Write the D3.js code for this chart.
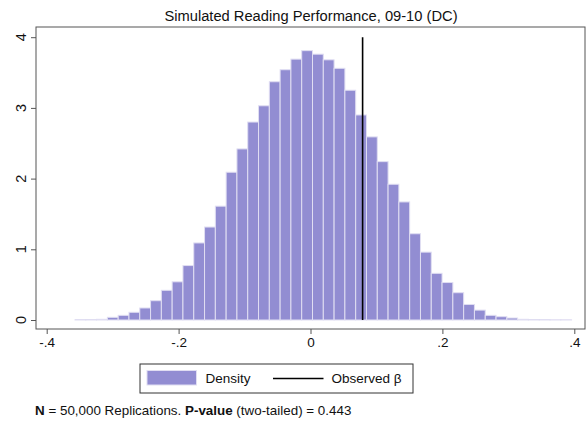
<!DOCTYPE html>
<html>
<head>
<meta charset="utf-8">
<script src="https://cdn.jsdelivr.net/npm/d3@7"></script>
<style>
  html, body { margin: 0; padding: 0; background: #fff; }
  svg { display: block; font-family: "Liberation Sans", Arial, Helvetica, sans-serif; }
</style>
</head>
<body>
<svg id="chart" width="587" height="422"></svg>
<script>
// Histogram of simulated coefficients (density per bin), 46 equal-width bins
const binStart = -0.3571;
const binWidth = 0.01637;
const densities = [
  0.004, 0.006, 0.010, 0.038, 0.066, 0.109, 0.170, 0.273, 0.420, 0.540,
  0.770, 1.090, 1.315, 1.610, 2.090, 2.420, 2.800, 3.030, 3.370, 3.540,
  3.690, 3.810, 3.760, 3.680, 3.560, 3.250, 2.900, 2.590, 2.240, 1.920,
  1.670, 1.220, 0.960, 0.660, 0.530, 0.386, 0.220, 0.140, 0.066, 0.047,
  0.028, 0.010, 0.006, 0.004, 0.002, 0.002
];
const observedBeta = 0.079;

const xTicks = [-0.4, -0.2, 0, 0.2, 0.4];
const xTickLabels = ["-.4", "-.2", "0", ".2", ".4"];
const yTicks = [0, 1, 2, 3, 4];
const yTickLabels = ["0", "1", "2", "3", "4"];

const titleText = "Simulated Reading Performance, 09-10 (DC)";
const legendLabels = ["Density", "Observed \u03B2"];

const svg = d3.select("#chart");

const frame = { left: 36, top: 27, right: 585, bottom: 329 };

const x = d3.scaleLinear().domain([-0.4, 0.4]).range([46.7, 574.3]);
const y = d3.scaleLinear().domain([0, 4]).range([320, 37.2]);

const barFill = "#928dd2";
const barStroke = "#e0def2";

// plot frame
svg.append("rect")
  .attr("x", frame.left).attr("y", frame.top)
  .attr("width", frame.right - frame.left).attr("height", frame.bottom - frame.top)
  .attr("fill", "none").attr("stroke", "#555").attr("stroke-width", 1);

// bars
const bins = densities.map((d, i) => ({ x0: binStart + i * binWidth, x1: binStart + (i + 1) * binWidth, d }));
svg.append("g").selectAll("rect").data(bins).join("rect")
  .attr("x", b => x(b.x0))
  .attr("y", b => y(b.d))
  .attr("width", b => x(b.x1) - x(b.x0))
  .attr("height", b => y(0) - y(b.d))
  .attr("fill", barFill)
  .attr("stroke", barStroke)
  .attr("stroke-width", 1);

// observed coefficient
svg.append("line")
  .attr("x1", x(observedBeta)).attr("x2", x(observedBeta))
  .attr("y1", y(0)).attr("y2", y(4))
  .attr("stroke", "#000").attr("stroke-width", 1.6);

// x axis
const xAxis = d3.axisBottom(x).tickValues(xTicks)
  .tickFormat((d, i) => xTickLabels[i]).tickSize(5).tickSizeOuter(0);
const gx = svg.append("g").attr("transform", `translate(0,${frame.bottom})`).call(xAxis);
gx.select(".domain").remove();
gx.selectAll(".tick line").attr("stroke", "#555");
gx.selectAll(".tick text").attr("font-size", 13.5).attr("fill", "#111").attr("dy", "0.71em").attr("y", 8)
  .attr("font-family", "Liberation Sans, Arial, sans-serif");

// y axis: ticks from the axis generator, labels rotated to read upward
const yAxis = d3.axisLeft(y).tickValues(yTicks).tickFormat("").tickSize(5).tickSizeOuter(0);
const gy = svg.append("g").attr("transform", `translate(${frame.left},0)`).call(yAxis);
gy.select(".domain").remove();
gy.selectAll(".tick line").attr("stroke", "#555");
gy.selectAll(".tick text").remove();
svg.append("g").selectAll("text").data(yTicks).join("text")
  .attr("transform", d => `translate(${frame.left - 10},${y(d)}) rotate(-90)`)
  .attr("text-anchor", "middle")
  .attr("font-size", 14.5).attr("fill", "#111")
  .text((d, i) => yTickLabels[i]);

// title
svg.append("text")
  .attr("x", 311).attr("y", 21)
  .attr("text-anchor", "middle").attr("font-size", 14.7).attr("fill", "#111")
  .text(titleText);

// legend
const lg = svg.append("g");
lg.append("rect").attr("x", 140).attr("y", 364).attr("width", 273).attr("height", 29)
  .attr("fill", "#fff").attr("stroke", "#333").attr("stroke-width", 1);
lg.append("rect").attr("x", 147).attr("y", 370.5).attr("width", 49.5).attr("height", 14.5)
  .attr("fill", barFill).attr("stroke", barStroke).attr("stroke-width", 1);
lg.append("text").attr("x", 205.5).attr("y", 383).attr("font-size", 13.5).attr("fill", "#111").text(legendLabels[0]);
lg.append("line").attr("x1", 273).attr("x2", 323.5).attr("y1", 378.5).attr("y2", 378.5)
  .attr("stroke", "#000").attr("stroke-width", 1.4);
lg.append("text").attr("x", 331.5).attr("y", 383).attr("font-size", 13.5).attr("fill", "#111").text(legendLabels[1]);

// caption
const cap = svg.append("text").attr("x", 35).attr("y", 414.5).attr("font-size", 13.4).attr("fill", "#111");
cap.append("tspan").attr("font-weight", "bold").text("N");
cap.append("tspan").text(" = 50,000 Replications. ");
cap.append("tspan").attr("font-weight", "bold").text("P-value");
cap.append("tspan").text(" (two-tailed) = 0.443");
</script>
</body>
</html>
